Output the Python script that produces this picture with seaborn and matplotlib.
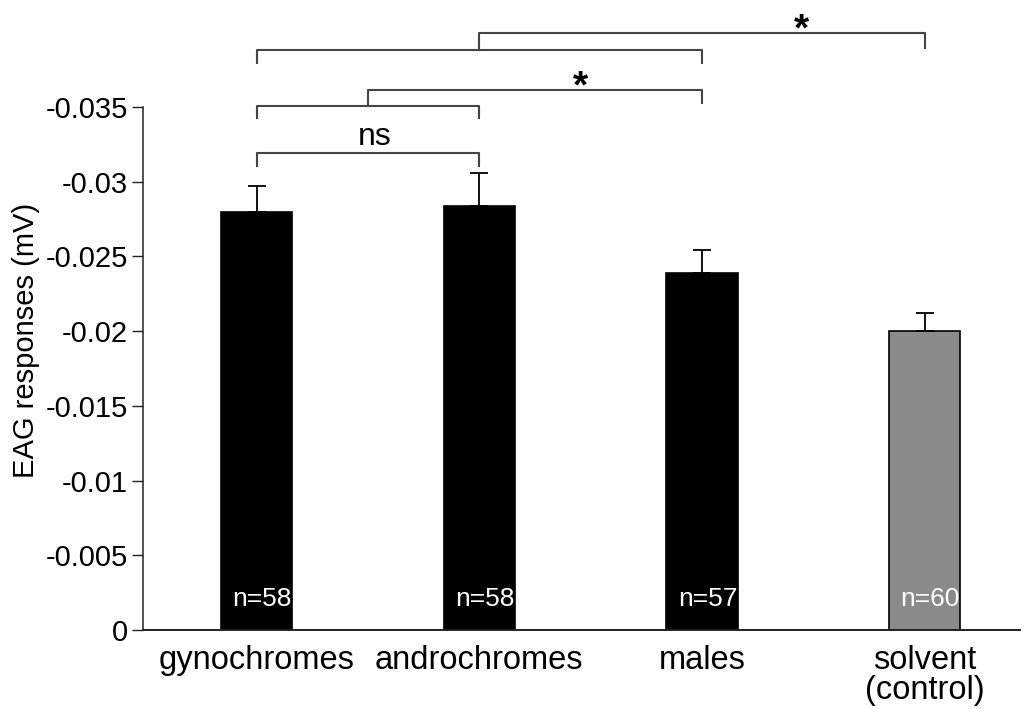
import matplotlib
matplotlib.use("Agg")
import matplotlib.pyplot as plt
import seaborn as sns
import pandas as pd

categories = ["gynochromes", "androchromes", "males", "solvent\n(control)"]
values = [-0.0280, -0.0284, -0.0239, -0.0200]
errors = [0.0017, 0.0022, 0.0015, 0.0012]
n_labels = ["n=58", "n=58", "n=57", "n=60"]
bar_colors = ["#000000", "#000000", "#000000", "#8a8a8a"]
yticks = [0, -0.005, -0.01, -0.015, -0.02, -0.025, -0.03, -0.035]
ytick_labels = ["0", "-0.005", "-0.01", "-0.015", "-0.02", "-0.025", "-0.03", "-0.035"]

sns.set_style("white")
plt.rcParams["font.family"] = ["Liberation Sans", "DejaVu Sans"]
plt.rcParams["text.color"] = "black"
plt.rcParams["axes.labelcolor"] = "black"
plt.rcParams["xtick.color"] = "black"
plt.rcParams["ytick.color"] = "black"

df = pd.DataFrame({"group": categories, "eag": values})

fig = plt.figure(figsize=(10.26, 7.09), dpi=100)
ax = fig.add_axes([0.1394, 0.1114, 0.855, 0.7377])

sns.barplot(data=df, x="group", y="eag", hue="group", palette=bar_colors,
            legend=False, width=0.32, edgecolor="black", linewidth=1.2,
            saturation=1, errorbar=None, ax=ax)

xs = list(range(len(categories)))
ax.errorbar(xs, values, yerr=[errors, [0] * len(errors)], fmt="none",
            ecolor="black", elinewidth=1.3, capsize=6.5, capthick=1.3, zorder=3)

for x, lab in zip(xs, n_labels):
    ax.text(x + 0.025, -0.0021, lab, color="white", ha="center", va="center", fontsize=19)

ax.set_ylim(0, -0.035)
ax.set_xlim(-0.511, 3.43)
ax.set_yticks(yticks)
ax.set_yticklabels(ytick_labels)
ax.tick_params(axis="y", length=8, width=1, color="#222222", labelsize=21, pad=3, left=True)
ax.tick_params(axis="x", length=0, labelsize=23.5, pad=11)
for lbl in ax.get_xticklabels():
    lbl.set_linespacing(0.95)
ax.set_xlabel("")
ax.set_ylabel("EAG responses (mV)", fontsize=21, labelpad=5)
ax.yaxis.set_label_coords(-0.118, 0.554)

sns.despine(ax=ax, top=True, right=True)
ax.spines["left"].set_color("#222222")
ax.spines["bottom"].set_color("#222222")
ax.spines["left"].set_linewidth(1.1)
ax.spines["bottom"].set_linewidth(1.4)

bc = "#444444"
blw = 1.5
kw = dict(color=bc, lw=blw, clip_on=False, solid_capstyle="butt")

# ns bracket: gyno - andro
ax.plot([0, 0, 1, 1], [-0.0310, -0.03195, -0.03195, -0.0310], **kw)
ax.text(0.53, -0.0330, "ns", ha="center", va="center", fontsize=23)

# bracket gyno-andro joined to males
ax.plot([0, 0, 1, 1], [-0.0342, -0.03507, -0.03507, -0.0342], **kw)
ax.plot([0.5, 0.5, 2, 2], [-0.03507, -0.03614, -0.03614, -0.0352], **kw)
ax.text(1.455, -0.0363, "*", ha="center", va="center", fontsize=28, fontweight="bold")

# bracket gyno-males joined to solvent
ax.plot([0, 0, 2, 2], [-0.03787, -0.0388, -0.0388, -0.03787], **kw)
ax.plot([1, 1, 3, 3], [-0.0388, -0.03992, -0.03992, -0.03889], **kw)
ax.text(2.446, -0.0401, "*", ha="center", va="center", fontsize=28, fontweight="bold")

fig.savefig("out.png", dpi=100)
